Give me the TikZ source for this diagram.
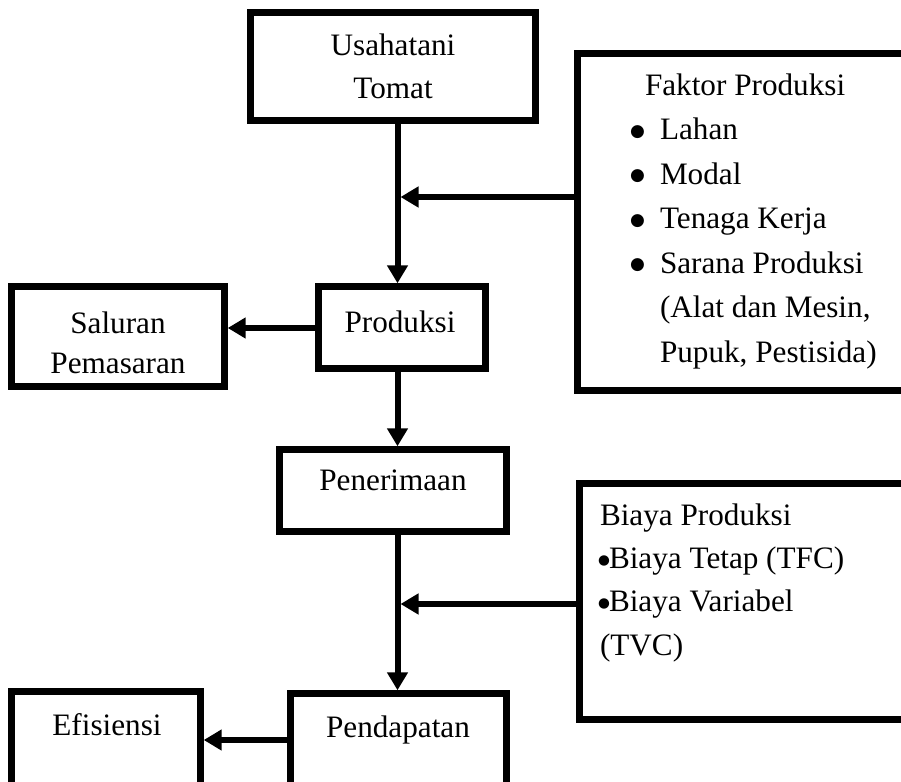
\documentclass[tikz,border=0pt]{standalone}
\usepackage{fontspec}
\setmainfont{Liberation Serif}
\newfontfamily\bulfont{DejaVu Sans}
\usetikzlibrary{arrows.meta}
\newcommand{\fbul}{\raisebox{1.8pt}{\bulfont\fontsize{8.5}{10}\selectfont ●}}
\newcommand{\bbul}{\raisebox{2.2pt}{\bulfont\fontsize{6.8}{8}\selectfont ●}}
\begin{document}
\begin{tikzpicture}[x=0.5pt,y=-0.5pt,
  box/.style={draw, line width=3.2pt, rectangle, inner sep=0pt},
  arr/.style={line width=3pt, -{Triangle[length=9pt,width=10pt]}},
  txt/.style={inner sep=0pt, outer sep=0pt}]
\useasboundingbox (0,0) rectangle (901,782);
\clip (0,0) rectangle (901,782);
% boxes
\node[box, minimum width=142.5pt, minimum height=54pt] (usaha) at (393,66.5) {};
\node[box, minimum width=168.75pt, minimum height=168.5pt] (faktor) at (746.25,222) {};
\node[box, minimum width=106.5pt, minimum height=50pt] (saluran) at (118,336.5) {};
\node[box, minimum width=83.5pt, minimum height=41pt] (produksi) at (402,327.5) {};
\node[box, minimum width=113.5pt, minimum height=41pt] (penerimaan) at (393,490.5) {};
\node[box, minimum width=167.75pt, minimum height=118pt] (biaya) at (747.25,601.5) {};
\node[box, minimum width=94.5pt, minimum height=59.25pt] (efisiensi) at (106,750.75) {};
\node[box, minimum width=108pt, minimum height=58.25pt] (pendapatan) at (398.5,751.75) {};
% texts
\node[txt, anchor=base, font=\fontsize{15.6}{21.5}\selectfont] (usahatxt) at (393,55)
  {\begin{tabular}[t]{@{}c@{}}Usahatani\\Tomat\end{tabular}};
\node[txt, anchor=base west, font=\fontsize{15.6}{22.3}\selectfont] (faktortxt) at (630,95)
  {\begin{tabular}[t]{@{}l@{}}
  \hspace*{7.5pt}Faktor Produksi\\
  \makebox[15pt][l]{\fbul}Lahan\\
  \makebox[15pt][l]{\fbul}Modal\\
  \makebox[15pt][l]{\fbul}Tenaga Kerja\\
  \makebox[15pt][l]{\fbul}Sarana Produksi\\
  \hspace*{15pt}(Alat dan Mesin,\\
  \hspace*{15pt}Pupuk, Pestisida)
  \end{tabular}};
\node[txt, anchor=base, font=\fontsize{15.6}{20}\selectfont] (saluranTxt) at (118,333)
  {\begin{tabular}[t]{@{}c@{}}Saluran\\Pemasaran\end{tabular}};
\node[txt, anchor=base, font=\fontsize{15.6}{18}\selectfont] (produksiTxt) at (400,332) {Produksi};
\node[txt, anchor=base, font=\fontsize{15.6}{18}\selectfont] (penerimaanTxt) at (393,490) {Penerimaan};
\node[txt, anchor=base west, font=\fontsize{15.6}{21.7}\selectfont] (biayaTxt) at (598,525)
  {\begin{tabular}[t]{@{}l@{}}
  \hspace*{1pt}Biaya Produksi\\
  \makebox[5.5pt][l]{\bbul}Biaya Tetap (TFC)\\
  \makebox[5.5pt][l]{\bbul}Biaya Variabel\\
  \hspace*{1pt}(TVC)
  \end{tabular}};
\node[txt, anchor=base, font=\fontsize{15.6}{18}\selectfont] (efisiensiTxt) at (107,735) {Efisiensi};
\node[txt, anchor=base, font=\fontsize{15.6}{18}\selectfont] (pendapatanTxt) at (398,737) {Pendapatan};
% connectors
\coordinate (vx) at (397.5,0);
\coordinate (j1) at (400.5,197);
\coordinate (j2) at (400.5,604);
\coordinate (h1) at (0,328);
\coordinate (h2) at (0,740);
\draw[arr] (usaha.south -| vx) -- (produksi.north -| vx);
\draw[arr] (faktor.west |- j1) -- (j1);
\draw[arr] (produksi.west |- h1) -- (saluran.east |- h1);
\draw[arr] (produksi.south -| vx) -- (penerimaan.north -| vx);
\draw[arr] (penerimaan.south -| vx) -- (pendapatan.north -| vx);
\draw[arr] (biaya.west |- j2) -- (j2);
\draw[arr] (pendapatan.west |- h2) -- (efisiensi.east |- h2);
\end{tikzpicture}
\end{document}
